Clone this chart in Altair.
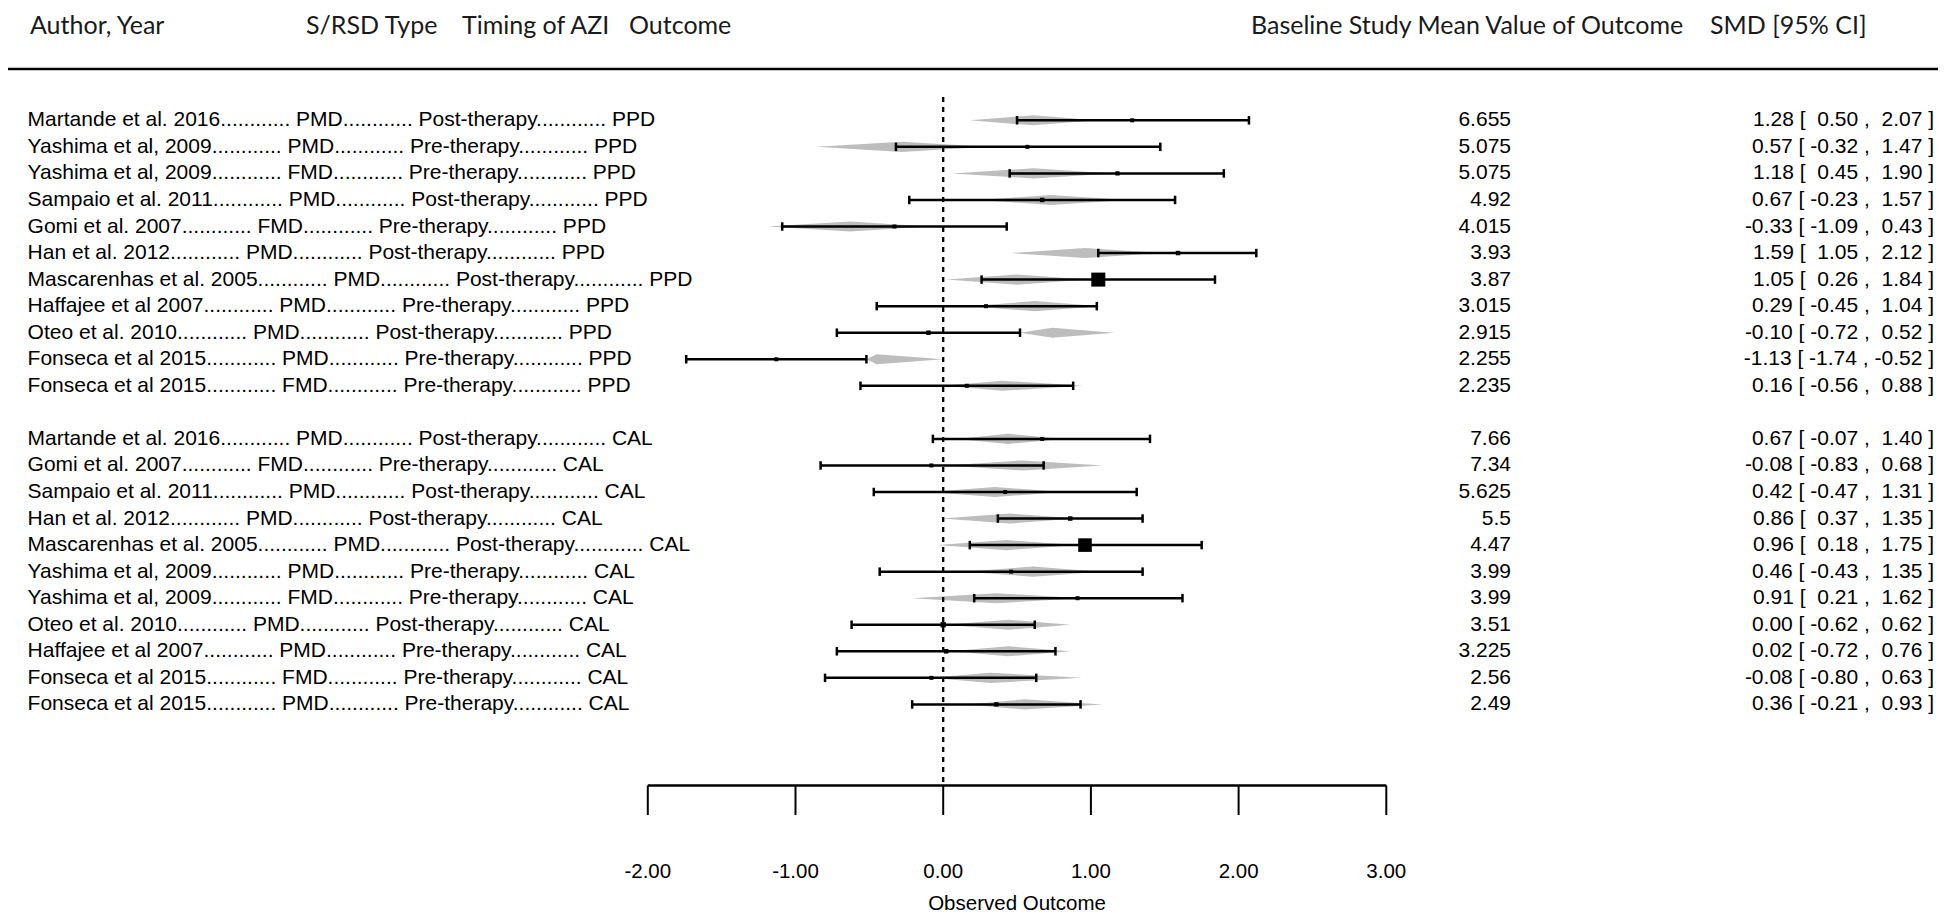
import altair as alt
import pandas as pd

# ---------------- data ----------------
authors = ["Martande et al. 2016", "Yashima et al, 2009", "Yashima et al, 2009", "Sampaio et al. 2011",
           "Gomi et al. 2007", "Han et al. 2012", "Mascarenhas et al. 2005", "Haffajee et al 2007",
           "Oteo et al. 2010", "Fonseca et al 2015", "Fonseca et al 2015",
           "Martande et al. 2016", "Gomi et al. 2007", "Sampaio et al. 2011", "Han et al. 2012",
           "Mascarenhas et al. 2005", "Yashima et al, 2009", "Yashima et al, 2009", "Oteo et al. 2010",
           "Haffajee et al 2007", "Fonseca et al 2015", "Fonseca et al 2015"]
srsd = ["PMD", "PMD", "FMD", "PMD", "FMD", "PMD", "PMD", "PMD", "PMD", "PMD", "FMD",
        "PMD", "FMD", "PMD", "PMD", "PMD", "PMD", "FMD", "PMD", "PMD", "FMD", "PMD"]
timing = ["Post-therapy", "Pre-therapy", "Pre-therapy", "Post-therapy", "Pre-therapy", "Post-therapy",
          "Post-therapy", "Pre-therapy", "Post-therapy", "Pre-therapy", "Pre-therapy",
          "Post-therapy", "Pre-therapy", "Post-therapy", "Post-therapy", "Post-therapy", "Pre-therapy",
          "Pre-therapy", "Post-therapy", "Pre-therapy", "Pre-therapy", "Pre-therapy"]
outcome = ["PPD"] * 11 + ["CAL"] * 11
baseline = [6.655, 5.075, 5.075, 4.92, 4.015, 3.93, 3.87, 3.015, 2.915, 2.255, 2.235,
            7.66, 7.34, 5.625, 5.5, 4.47, 3.99, 3.99, 3.51, 3.225, 2.56, 2.49]
smd = [1.28, 0.57, 1.18, 0.67, -0.33, 1.59, 1.05, 0.29, -0.10, -1.13, 0.16,
       0.67, -0.08, 0.42, 0.86, 0.96, 0.46, 0.91, 0.00, 0.02, -0.08, 0.36]
ci_lo = [0.50, -0.32, 0.45, -0.23, -1.09, 1.05, 0.26, -0.45, -0.72, -1.74, -0.56,
         -0.07, -0.83, -0.47, 0.37, 0.18, -0.43, 0.21, -0.62, -0.72, -0.80, -0.21]
ci_hi = [2.07, 1.47, 1.90, 1.57, 0.43, 2.12, 1.84, 1.04, 0.52, -0.52, 0.88,
         1.40, 0.68, 1.31, 1.35, 1.75, 1.35, 1.62, 0.62, 0.76, 0.63, 0.93]
# study weights (marker area)
weights = [16, 16, 18, 20, 16, 20, 196, 16, 20, 16, 16,
           16, 16, 16, 20, 185, 16, 16, 28, 20, 16, 20]
# grey predicted-distribution diamonds (left tip, widest point, right tip)
dia_lo = [0.18, -0.86, 0.06, 0.25, -1.19, 0.46, 0.02, 0.17, 0.52, -0.52, 0.00,
          0.09, 0.02, -0.10, -0.01, -0.04, 0.14, -0.21, 0.02, 0.05, -0.09, 0.16]
dia_mid = [0.61, -0.28, 0.61, 0.73, -0.63, 0.96, 0.50, 0.62, 0.74, -0.45, 0.40,
           0.44, 0.54, 0.35, 0.45, 0.43, 0.61, 0.36, 0.44, 0.44, 0.32, 0.55]
dia_hi = [1.04, 0.30, 1.15, 1.24, -0.10, 1.48, 0.97, 1.06, 1.16, 0.00, 0.95,
          0.81, 1.08, 0.81, 0.90, 0.90, 1.06, 0.93, 0.86, 0.86, 0.94, 1.08]
rows = list(range(0, 11)) + list(range(12, 23))

headers = ["Author, Year", "S/RSD Type", "Timing of AZI", "Outcome",
           "Baseline Study Mean Value of Outcome", "SMD [95% CI]"]
tick_values = [-2, -1, 0, 1, 2, 3]
tick_labels = ["-2.00", "-1.00", "0.00", "1.00", "2.00", "3.00"]
axis_title = "Observed Outcome"

# ---------------- tables ----------------
dots = "............"
NB = "\u00a0"


def pad(v):
    s = f"{v:.2f}"
    return s if s.startswith("-") else NB + s


df = pd.DataFrame({
    "row": rows,
    "label": [f"{a}{dots} {s}{dots} {t}{dots} {o}" for a, s, t, o in zip(authors, srsd, timing, outcome)],
    "base": [str(b) for b in baseline],
    "smd": smd, "lo": ci_lo, "hi": ci_hi, "w": weights,
    "ann": [f"{e:.2f} [{NB}{pad(l)} ,{NB}{pad(h)} ]" for e, l, h in zip(smd, ci_lo, ci_hi)],
})

HALF = 0.19  # half height of diamonds in row units
dia_records = []
for r, a, m, b in zip(rows, dia_lo, dia_mid, dia_hi):
    dia_records += [
        {"row": r, "x": a, "y": r, "y2": r},
        {"row": r, "x": m, "y": r - HALF, "y2": r + HALF},
        {"row": r, "x": b, "y": r, "y2": r},
    ]
dia = pd.DataFrame(dia_records)

ticks = pd.DataFrame({"v": tick_values, "lab": tick_labels})

# ---------------- layout ----------------
W, H = 1930, 908
X0, PXU = 935.2, 147.7          # pixel of 0 and pixels per unit
Y0, PXR = 112.3, 26.55          # pixel of row 0 and pixels per row
xs = alt.Scale(domain=[-X0 / PXU, (W - X0) / PXU], nice=False, zero=False)
ys = alt.Scale(domain=[-Y0 / PXR, (H - Y0) / PXR], nice=False, zero=False, reverse=True)

ROWFONT = "Liberation Sans, Arial, sans-serif"
HEADFONT = "Lato, Carlito, Calibri, sans-serif"
FS = 21

base = alt.Chart(df)

diamonds = alt.Chart(dia).mark_area(color="#bdbdbd", opacity=1).encode(
    x=alt.X("x:Q", scale=xs, axis=None),
    y=alt.Y("y:Q", scale=ys, axis=None),
    y2="y2:Q",
    detail="row:N",
)

ci = base.mark_rule(color="black", strokeWidth=2.5).encode(
    x=alt.X("lo:Q", scale=xs, axis=None), x2="hi:Q",
    y=alt.Y("row:Q", scale=ys, axis=None),
)

caps_df = pd.concat([df[["row", "lo"]].rename(columns={"lo": "cx"}),
                     df[["row", "hi"]].rename(columns={"hi": "cx"})])
caps = alt.Chart(caps_df).transform_calculate(
    ya="datum.row - 0.16", yb="datum.row + 0.16"
).mark_rule(color="black", strokeWidth=2.5).encode(
    x=alt.X("cx:Q", scale=xs, axis=None),
    y=alt.Y("ya:Q", scale=ys, axis=None), y2="yb:Q",
)

squares = base.mark_square(color="black", opacity=1).encode(
    x=alt.X("smd:Q", scale=xs, axis=None),
    y=alt.Y("row:Q", scale=ys, axis=None),
    size=alt.Size("w:Q", scale=None, legend=None),
)

labels = base.mark_text(align="left", baseline="middle", font=ROWFONT, fontSize=FS, color="black").encode(
    x=alt.value(19.6), y=alt.Y("row:Q", scale=ys, axis=None), text="label:N")

base_txt = base.mark_text(align="right", baseline="middle", font=ROWFONT, fontSize=FS, color="black").encode(
    x=alt.value(1503), y=alt.Y("row:Q", scale=ys, axis=None), text="base:N")

ann_txt = base.mark_text(align="right", baseline="middle", font=ROWFONT, fontSize=FS, color="black").encode(
    x=alt.value(1926), y=alt.Y("row:Q", scale=ys, axis=None), text="ann:N")

zero_line = alt.Chart(pd.DataFrame({"v": [0]})).mark_rule(
    color="black", strokeWidth=2.3, strokeDash=[5, 5]).encode(
    x=alt.X("v:Q", scale=xs, axis=None), y=alt.value(89), y2=alt.value(777))

axis_line = alt.Chart(pd.DataFrame({"a": [tick_values[0]], "b": [tick_values[-1]]})).mark_rule(
    color="black", strokeWidth=2.3).encode(
    x=alt.X("a:Q", scale=xs, axis=None), x2="b:Q", y=alt.value(777.5))

tick_marks = alt.Chart(ticks).mark_rule(color="black", strokeWidth=2).encode(
    x=alt.X("v:Q", scale=xs, axis=None), y=alt.value(777.5), y2=alt.value(807))

tick_text = alt.Chart(ticks).mark_text(baseline="middle", font=ROWFONT, fontSize=20.5, color="black").encode(
    x=alt.X("v:Q", scale=xs, axis=None), y=alt.value(864), text="lab:N")

# axis title centred under the axis span
title_txt = alt.Chart(pd.DataFrame({"a": [tick_values[0]], "b": [tick_values[-1]], "t": [axis_title]})).transform_calculate(
    mid="(datum.a + datum.b) / 2"
).mark_text(baseline="alphabetic", font=ROWFONT, fontSize=20.5, color="black").encode(
    x=alt.X("mid:Q", scale=xs, axis=None), y=alt.value(902), text="t:N")

head_rule = alt.Chart(pd.DataFrame({"k": [1]})).mark_rule(color="black", strokeWidth=2.5).encode(
    x=alt.value(0), x2=alt.value(W), y=alt.value(61))

head_x = [22, 298, 454, 621, 1243, 1702]
head_layers = []
for txt, hx in zip(headers, head_x):
    head_layers.append(
        alt.Chart(pd.DataFrame({"t": [txt]})).mark_text(
            align="left", baseline="top", font=HEADFONT, fontSize=25, color="#1a1a1a").encode(
            x=alt.value(hx), y=alt.value(6), text="t:N"))

chart = alt.layer(
    diamonds, zero_line, ci, caps, squares, labels, base_txt, ann_txt,
    axis_line, tick_marks, tick_text, title_txt, head_rule, *head_layers
).properties(
    width=W, height=H,
    autosize=alt.AutoSizeParams(type="none"),
    padding=0,
).configure_view(stroke=None)

chart.save("out.html", embed_options={"renderer": "svg", "actions": False})
